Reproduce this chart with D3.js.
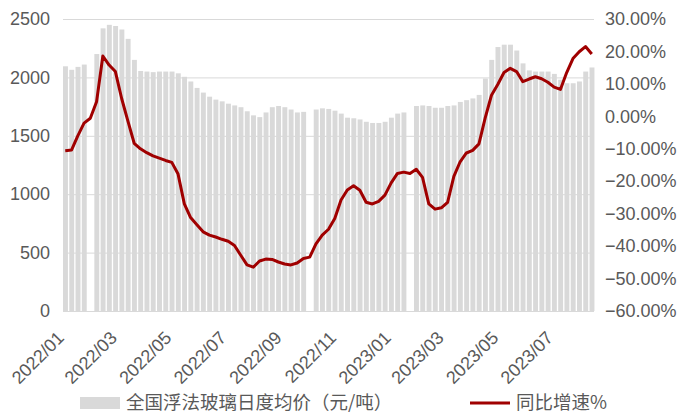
<!DOCTYPE html>
<html><head><meta charset="utf-8">
<script src="https://cdn.jsdelivr.net/npm/d3@7"></script>
<style>
html,body{margin:0;padding:0;background:#fff;}
svg{display:block;}
text{font-family:"Liberation Sans",Arial,sans-serif;}
</style></head>
<body>
<svg id="c" width="677" height="414"></svg>
<script>
// ---- data (weekly, week starting Monday) ----
const firstWeek = "2022-01-03";
const lastDay = "2023-08-19";
// 全国浮法玻璃日度均价（元/吨）, one value per week, null = holiday week
const price = [2095,2065,2090,2110,null,2200,2420,2450,2440,2410,
  2330,2150,2055,2050,2045,2050,2050,2050,2035,2005,
  1965,1910,1870,1835,1810,1795,1775,1760,1745,1710,
  1675,1660,1700,1745,1755,1745,1725,1700,1705,null,
  1725,1735,1730,1715,1690,1655,1650,1640,1620,1610,
  1610,1620,1655,1690,1700,null,1755,1760,1755,1740,
  1740,1755,1760,1790,1805,1820,1850,1990,2150,2260,
  2280,2280,2230,2120,2060,2050,2050,2050,2030,1980,
  1950,1950,1965,2050,2085];
// 同比增速%, one value per week
const yoy = [-10.6,-10.4,-6,-2.1,-0.6,4.5,18.6,15.8,13.8,5.5,
  -1.5,-8.3,-10,-11.2,-12.2,-12.9,-13.6,-14.2,-17.8,-27,
  -31.2,-33.4,-35.6,-36.6,-37.2,-37.9,-38.5,-39.8,-42.8,-45.8,
  -46.5,-44.6,-44,-44.1,-44.9,-45.5,-45.8,-45.2,-43.8,-43.4,
  -39.3,-36.6,-34.8,-31.5,-25.8,-22.7,-21.4,-22.8,-26.5,-27,
  -26.2,-24.3,-20.5,-17.6,-17.2,-17.6,-16.3,-18.8,-27,-28.6,
  -28.2,-26.5,-18.5,-14,-11.3,-10.5,-8.5,-0.5,6.5,9.8,
  13.5,14.8,13.8,10.7,11.5,12.2,11.6,10.5,9,8.3,
  13.5,17.8,19.9,21.5,19.2];
const xLabels = ["2022/01","2022/03","2022/05","2022/07","2022/09","2022/11","2023/01","2023/03","2023/05","2023/07"];
const leftTicks = [0,500,1000,1500,2000,2500];
const rightTicks = [-60,-50,-40,-30,-20,-10,0,10,20,30];
const legendNames = ["全国浮法玻璃日度均价（元/吨）","同比增速%"];

// ---- chart ----
const svg = d3.select("#c");
const parse = d3.timeParse("%Y-%m-%d");
const L = 63, R = 594, T = 19, B = 311;
const x = d3.scaleTime().domain([parse(firstWeek), parse(lastDay)]).range([L, R]);
const yL = d3.scaleLinear().domain([0, 2500]).range([B, T]);
const yR = d3.scaleLinear().domain([-60, 30]).range([B, T]);
const weeks = price.map((v, i) => d3.timeWeek.offset(parse(firstWeek), i));

// gridlines
const gGrid = svg.append("g").attr("transform", `translate(${L},0)`)
  .call(d3.axisLeft(yL).tickValues(leftTicks).tickSize(-(R - L)).tickFormat(""));
gGrid.select(".domain").remove();
gGrid.selectAll("line").attr("stroke", "#d9d9d9").attr("stroke-width", 1);

// bars (Mon..Fri of each week)
svg.append("g").selectAll("rect")
  .data(price.map((v, i) => ({ d: weeks[i], v })).filter(o => o.v != null))
  .join("rect")
  .attr("x", o => x(o.d))
  .attr("width", o => x(d3.timeHour.offset(o.d, 132)) - x(o.d))
  .attr("y", o => yL(o.v))
  .attr("height", o => B - yL(o.v))
  .attr("fill", "#d9d9d9");

// baseline
svg.append("line").attr("x1", L).attr("x2", R).attr("y1", B + 0.5).attr("y2", B + 0.5)
  .attr("stroke", "#d9d9d9");

// line
const line = d3.line()
  .x((v, i) => x(d3.timeHour.offset(weeks[i], 60)))
  .y(v => yR(v));
svg.append("path").datum(yoy).attr("d", line)
  .attr("fill", "none").attr("stroke", "#a00000").attr("stroke-width", 3)
  .attr("stroke-linejoin", "round");

// left axis
const gL = svg.append("g").attr("transform", `translate(${L},0)`)
  .call(d3.axisLeft(yL).tickValues(leftTicks).tickSize(0).tickPadding(13).tickFormat(d3.format("d")));
gL.select(".domain").remove();
gL.selectAll("text").attr("font-size", 18).attr("fill", "#595959")
  .style("font-family", "Liberation Sans, Arial, sans-serif");

// right axis
const gR = svg.append("g").attr("transform", `translate(${R},0)`)
  .call(d3.axisRight(yR).tickValues(rightTicks).tickSize(0).tickPadding(11)
    .tickFormat(d => d3.format(".2f")(d) + "%"));
gR.select(".domain").remove();
gR.selectAll("text").attr("font-size", 18).attr("fill", "#595959")
  .style("font-family", "Liberation Sans, Arial, sans-serif");

// x labels (rotated)
const xl = svg.append("g");
xl.selectAll("text").data(xLabels).join("text")
  .attr("transform", d => `translate(${x(d3.timeParse("%Y/%m")(d)) + 4},339) rotate(-45)`)
  .attr("text-anchor", "end")
  .attr("font-size", 18).attr("fill", "#595959")
  .text(d => d);

// legend
const lg = svg.append("g");
lg.append("rect").attr("x", 80).attr("y", 397).attr("width", 40).attr("height", 12).attr("fill", "#d9d9d9");
lg.append("text").attr("x", 126).attr("y", 409).attr("font-size", 18.5).attr("fill", "#595959")
  .style("font-family", "Noto Sans CJK SC, sans-serif")
  .text(legendNames[0]);
lg.append("line").attr("x1", 470).attr("x2", 510).attr("y1", 403).attr("y2", 403)
  .attr("stroke", "#a00000").attr("stroke-width", 3);
lg.append("text").attr("x", 516).attr("y", 409).attr("font-size", 18.5).attr("fill", "#595959")
  .style("font-family", "Noto Sans CJK SC, sans-serif")
  .text(legendNames[1]);
</script>
</body></html>
